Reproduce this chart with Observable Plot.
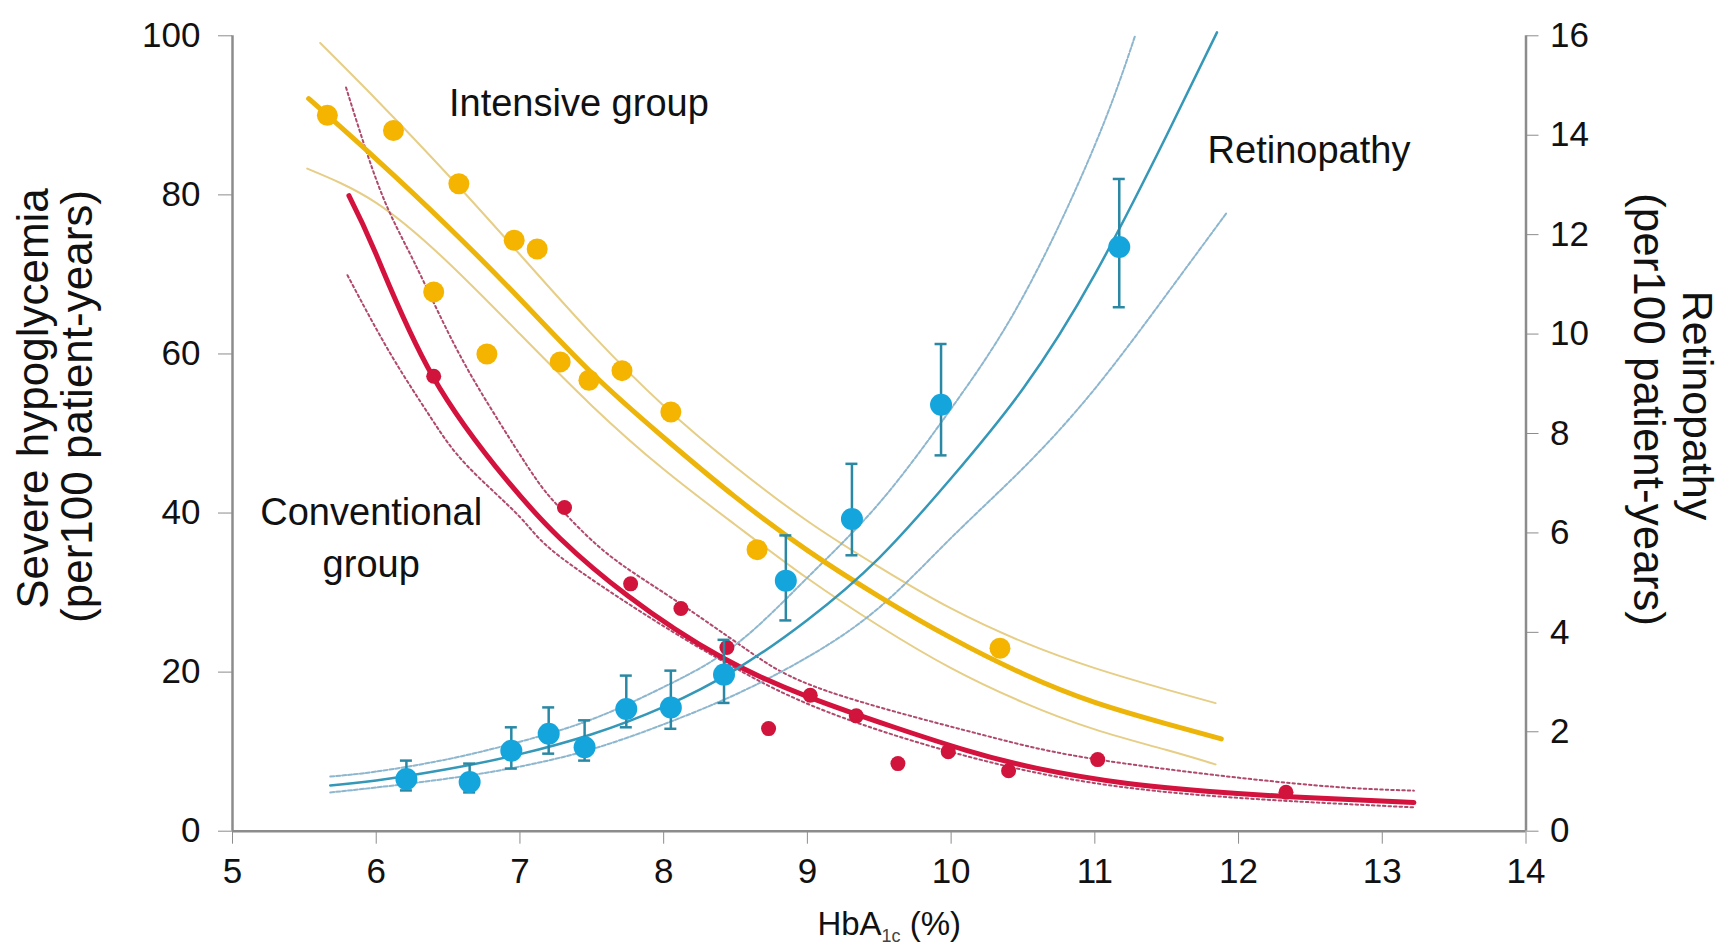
<!DOCTYPE html>
<html>
<head>
<meta charset="utf-8">
<script src="https://cdn.jsdelivr.net/npm/d3@7"></script>
<script src="https://cdn.jsdelivr.net/npm/@observablehq/plot@0.6"></script>
<style>
  html, body { margin: 0; padding: 0; background: #ffffff; }
  #chart svg { display: block; font-family: "Liberation Sans", Arial, sans-serif; }
</style>
</head>
<body>
<div id="chart"></div>
<script>
// ---------- tick labels ----------
const xTicks = [5, 6, 7, 8, 9, 10, 11, 12, 13, 14];
const leftTicks = [0, 20, 40, 60, 80, 100];
const rightTicks = [0, 2, 4, 6, 8, 10, 12, 14, 16];

// ---------- Intensive group: severe hypoglycemia (per 100 patient-years) ----------
const intensiveHbA1c = [5.66, 6.12, 6.40, 6.575, 6.77, 6.96, 7.12, 7.28, 7.48, 7.71, 8.05, 8.65, 10.34];
const intensiveRate  = [90.0, 88.1, 67.8, 81.4, 60.0, 74.3, 73.2, 59.0, 56.7, 57.9, 52.7, 35.4, 23.0];
const intensiveFitX  = [5.53, 6.0, 6.5, 7.0, 7.5, 8.0, 8.5, 9.0, 9.5, 10.0, 10.5, 11.0, 11.5, 11.88];
const intensiveFit   = [92.1, 84.5, 76.0, 66.9, 57.6, 49.5, 42.0, 35.3, 29.5, 24.3, 19.8, 16.2, 13.5, 11.6];
const intensiveUpX   = [5.61, 6.0, 6.5, 7.0, 7.5, 8.0, 8.5, 9.0, 9.5, 10.0, 10.5, 11.0, 11.5, 11.84];
const intensiveUp    = [99.1, 92.0, 82.5, 72.5, 62.5, 53.5, 45.8, 39.0, 33.2, 28.0, 23.8, 20.5, 17.8, 16.1];
const intensiveLoX   = [5.52, 6.0, 6.5, 7.0, 7.5, 8.0, 8.5, 9.0, 9.5, 10.0, 10.5, 11.0, 11.5, 11.84];
const intensiveLo    = [83.3, 79.0, 71.5, 62.5, 53.5, 45.5, 38.5, 31.8, 25.8, 20.5, 16.2, 12.8, 10.2, 8.4];

// ---------- Conventional group: severe hypoglycemia (per 100 patient-years) ----------
const conventionalHbA1c = [6.40, 7.31, 7.77, 8.12, 8.44, 8.73, 9.02, 9.34, 9.63, 9.98, 10.40, 11.02, 12.33];
const conventionalRate  = [57.2, 40.7, 31.1, 28.0, 23.1, 12.9, 17.1, 14.5, 8.5, 10.0, 7.6, 9.0, 4.9];
const conventionalFitX  = [5.81, 6.0, 6.39, 6.91, 7.28, 7.75, 8.40, 9.02, 9.60, 10.1, 10.6, 11.23, 11.8, 12.39, 13.22];
const conventionalFit   = [79.9, 72.5, 57.3, 44.1, 36.8, 29.6, 21.9, 16.8, 13.1, 10.2, 7.9, 6.0, 5.0, 4.3, 3.6];
const conventionalUpX   = [5.79, 6.03, 6.26, 6.54, 6.82, 7.10, 7.28, 7.60, 8.05, 8.58, 9.14, 10.2, 11.06, 12.39, 13.22];
const conventionalUp    = [93.5, 80.5, 71.7, 61.3, 52.5, 44.6, 40.6, 35.0, 29.4, 22.8, 17.6, 12.2, 8.9, 6.0, 5.1];
const conventionalLoX   = [5.80, 6.10, 6.38, 6.63, 7.0, 7.28, 7.98, 8.51, 9.14, 10.2, 11.46, 13.22];
const conventionalLo    = [69.9, 60.0, 52.0, 46.0, 39.5, 34.5, 26.0, 20.4, 15.0, 9.0, 5.0, 3.0];

// ---------- Retinopathy (per 100 patient-years, right axis) ----------
const retinoHbA1c = [6.21, 6.65, 6.94, 7.20, 7.45, 7.74, 8.05, 8.42, 8.85, 9.31, 9.93, 11.17];
const retinoRate  = [1.05, 0.99, 1.62, 1.96, 1.69, 2.46, 2.49, 3.15, 5.04, 6.28, 8.58, 11.75];
const retinoLow   = [0.82, 0.78, 1.26, 1.56, 1.42, 2.09, 2.06, 2.58, 4.24, 5.55, 7.56, 10.54];
const retinoHigh  = [1.42, 1.36, 2.09, 2.49, 2.23, 3.13, 3.23, 3.85, 5.95, 7.39, 9.80, 13.12];
const retinoFitX  = [5.68, 6.0, 6.5, 7.0, 7.5, 8.0, 8.5, 9.0, 9.5, 10.0, 10.5, 11.0, 11.5, 11.85];
const retinoFit   = [0.92, 1.02, 1.25, 1.55, 1.95, 2.5, 3.25, 4.25, 5.5, 7.1, 8.9, 11.2, 14.0, 16.07];
const retinoUpX   = [5.68, 6.0, 6.5, 7.0, 7.5, 8.0, 8.5, 9.0, 9.5, 10.0, 10.5, 11.0, 11.28];
const retinoUp    = [1.1, 1.2, 1.45, 1.8, 2.25, 2.9, 3.75, 5.1, 6.6, 8.5, 10.75, 13.8, 16.0];
const retinoLoX   = [5.68, 6.0, 6.5, 7.0, 7.5, 8.0, 8.5, 9.0, 9.5, 10.0, 10.5, 11.0, 11.5, 11.92];
const retinoLo    = [0.78, 0.88, 1.06, 1.3, 1.65, 2.15, 2.75, 3.5, 4.5, 5.9, 7.3, 8.9, 10.8, 12.45];

// ---------- in-chart labels ----------
const labelText = ["Intensive group", "Conventional\ngroup", "Retinopathy"];
const labelX    = [7.41, 5.965, 12.49];
const labelY    = [92.1, 37.35, 86.1];

// ---------- build tables ----------
const pairs = (xs, ys) => xs.map((x, i) => ({x, y: ys[i]}));
const rightMax = 16, leftMax = 100;
const toLeft = r => r * leftMax / rightMax;

const intensivePts = pairs(intensiveHbA1c, intensiveRate);
const conventionalPts = pairs(conventionalHbA1c, conventionalRate);
const retinoPts = retinoHbA1c.map((x, i) => ({x, y: retinoRate[i], lo: retinoLow[i], hi: retinoHigh[i]}));
const labels = labelText.map((t, i) => ({text: t, x: labelX[i], y: labelY[i]}));

const FONT = '"Liberation Sans", Arial, sans-serif';
const AXIS = "#8c8c8c";

const chart = Plot.plot({
  width: 1732,
  height: 945,
  marginLeft: 232,
  marginRight: 206.5,
  marginTop: 35.3,
  marginBottom: 114.3,
  style: {fontFamily: FONT, fontSize: "35px", background: "#ffffff", color: "#111"},
  x: {domain: [5, 14]},
  y: {domain: [0, 100]},
  marks: [
    // axes
    Plot.axisX({ticks: xTicks, tickSize: 13, tickPadding: 14, fontSize: 35, stroke: AXIS, label: null, tickFormat: d => String(d)}),
    Plot.axisY({ticks: leftTicks, anchor: "left", tickSize: 14, tickPadding: 18, fontSize: 35, stroke: AXIS, label: null, tickFormat: d => String(d)}),
    Plot.axisY({ticks: rightTicks.map(toLeft), anchor: "right", tickSize: 12, tickPadding: 12, fontSize: 35, stroke: AXIS, label: null,
                tickFormat: v => String(Math.round(v * rightMax / leftMax))}),
    Plot.ruleY([0], {stroke: AXIS, strokeWidth: 2.5}),
    Plot.ruleX([5], {stroke: AXIS, strokeWidth: 2.5}),
    Plot.ruleX([14], {stroke: AXIS, strokeWidth: 2.5}),

    // confidence bands
    Plot.line(pairs(intensiveUpX, intensiveUp), {x: "x", y: "y", stroke: "#E6CE86", strokeWidth: 2, curve: "natural"}),
    Plot.line(pairs(intensiveLoX, intensiveLo), {x: "x", y: "y", stroke: "#E6CE86", strokeWidth: 2, curve: "natural"}),
    Plot.line(pairs(conventionalUpX, conventionalUp), {x: "x", y: "y", stroke: "#B04A6C", strokeWidth: 2, strokeDasharray: "2.5,3", curve: "natural"}),
    Plot.line(pairs(conventionalLoX, conventionalLo), {x: "x", y: "y", stroke: "#B04A6C", strokeWidth: 2, strokeDasharray: "2.5,3", curve: "natural"}),
    Plot.line(pairs(retinoUpX, retinoUp), {x: "x", y: d => toLeft(d.y), stroke: "#8DB6CF", strokeWidth: 2, strokeDasharray: "4,2", curve: "natural"}),
    Plot.line(pairs(retinoLoX, retinoLo), {x: "x", y: d => toLeft(d.y), stroke: "#8DB6CF", strokeWidth: 2, strokeDasharray: "4,2", curve: "natural"}),

    // fitted curves
    Plot.line(pairs(intensiveFitX, intensiveFit), {x: "x", y: "y", stroke: "#EDB40A", strokeWidth: 5, curve: "natural"}),
    Plot.line(pairs(conventionalFitX, conventionalFit), {x: "x", y: "y", stroke: "#D3123E", strokeWidth: 5, curve: "natural"}),
    Plot.line(pairs(retinoFitX, retinoFit), {x: "x", y: d => toLeft(d.y), stroke: "#3598B8", strokeWidth: 2.5, curve: "natural"}),

    // observed points
    Plot.dot(intensivePts, {x: "x", y: "y", r: 10.5, fill: "#F4B400"}),
    Plot.dot(conventionalPts, {x: "x", y: "y", r: 7.5, fill: "#D0143C"}),
    Plot.ruleX(retinoPts, {x: "x", y1: d => toLeft(d.lo), y2: d => toLeft(d.hi), stroke: "#2A88A4", strokeWidth: 2.5}),
    Plot.ruleY(retinoPts, {y: d => toLeft(d.hi), x1: "x", x2: "x", insetLeft: -6, insetRight: -6, stroke: "#2A88A4", strokeWidth: 2.5}),
    Plot.ruleY(retinoPts, {y: d => toLeft(d.lo), x1: "x", x2: "x", insetLeft: -6, insetRight: -6, stroke: "#2A88A4", strokeWidth: 2.5}),
    Plot.dot(retinoPts, {x: "x", y: d => toLeft(d.y), r: 11, fill: "#14A5DD"}),

    // in-chart labels
    Plot.text(labels, {x: "x", y: "y", text: "text", fontSize: 38, lineHeight: 1.39, fill: "#111"}),

    // axis titles
    Plot.text(["Severe hypoglycemia"], {frameAnchor: "left", textAnchor: "middle", lineAnchor: "middle", dx: -199, dy: -35, rotate: -90, fontSize: 44, fill: "#111"}),
    Plot.text(["(per100 patient-years)"], {frameAnchor: "left", textAnchor: "middle", lineAnchor: "middle", dx: -155, dy: -27, rotate: -90, fontSize: 44, fill: "#111"}),
    Plot.text(["Retinopathy"], {frameAnchor: "right", textAnchor: "middle", lineAnchor: "middle", dx: 170.5, dy: -28, rotate: 90, fontSize: 43, fill: "#111"}),
    Plot.text(["(per100 patient-years)"], {frameAnchor: "right", textAnchor: "middle", lineAnchor: "middle", dx: 122.5, dy: -24, rotate: 90, fontSize: 44, fill: "#111"}),
    Plot.text(["HbA1c (%)"], {frameAnchor: "bottom", textAnchor: "middle", dx: 10, dy: 104, fontSize: 33, fill: "#111"})
  ]
});

// subscript "1c" in the x-axis title
chart.querySelectorAll("text").forEach(el => {
  if (el.textContent === "HbA1c (%)") {
    while (el.firstChild) el.removeChild(el.firstChild);
    const ns = "http://www.w3.org/2000/svg";
    const a = document.createElementNS(ns, "tspan"); a.textContent = "HbA";
    const b = document.createElementNS(ns, "tspan"); b.textContent = "1c";
    b.setAttribute("font-size", "18"); b.setAttribute("dy", "7"); b.setAttribute("fill", "#444");
    const c = document.createElementNS(ns, "tspan"); c.textContent = " (%)"; c.setAttribute("dy", "-7");
    el.appendChild(a); el.appendChild(b); el.appendChild(c);
  }
});

document.getElementById("chart").appendChild(chart);
</script>
</body>
</html>
